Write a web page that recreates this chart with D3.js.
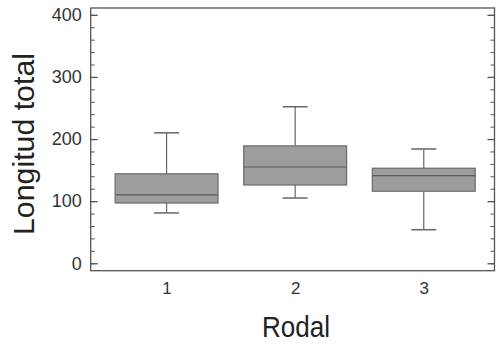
<!DOCTYPE html>
<html>
<head>
<meta charset="utf-8">
<script src="https://cdn.jsdelivr.net/npm/d3@7/dist/d3.min.js"></script>
<style>
 body { margin: 0; background: #fff; }
 svg { display: block; font-family: "Liberation Sans", Arial, sans-serif; }
</style>
</head>
<body>
<svg id="chart" width="496" height="344"></svg>
<script>
 // box stats per rodal
 var rodales = [1, 2, 3];
 var whiskLow  = [81, 105, 54];
 var q1        = [97, 126, 116];
 var medians   = [110, 155, 141];
 var q3        = [144, 189, 153];
 var whiskHigh = [210, 252, 184];
 var yTicks = [0, 100, 200, 300, 400];

 var svg = d3.select("#chart");
 // note: "top" is reserved on window, so plotTop etc.
 var plotLeft = 90.7, plotRight = 494.5, plotTop = 8, plotBottom = 270.7;

 var x = d3.scaleLinear().domain([0.41, 3.55]).range([plotLeft, plotRight]);
 var y = d3.scaleLinear().domain([-12, 411]).range([plotBottom, plotTop]);
 var halfW = 0.4;

 var axisColor = "#555";

 // frame
 svg.append("rect")
    .attr("x", plotLeft).attr("y", plotTop)
    .attr("width", plotRight - plotLeft).attr("height", plotBottom - plotTop)
    .attr("fill", "none").attr("stroke", axisColor).attr("stroke-width", 1.3);

 // minor ticks left / right
 var minor = d3.range(0, 401, 20);
 svg.append("g").attr("transform", "translate(" + plotLeft + ",0)")
    .call(d3.axisLeft(y).tickValues(minor).tickSize(-4).tickFormat(""))
    .call(function(g){ g.select(".domain").remove(); g.selectAll("line").attr("stroke", axisColor); });
 svg.append("g").attr("transform", "translate(" + plotRight + ",0)")
    .call(d3.axisRight(y).tickValues(minor).tickSize(-4).tickFormat(""))
    .call(function(g){ g.select(".domain").remove(); g.selectAll("line").attr("stroke", axisColor); });

 // major ticks + labels
 var ya = svg.append("g").attr("transform", "translate(" + plotLeft + ",0)")
    .call(d3.axisLeft(y).tickValues(yTicks).tickSize(-7).tickPadding(9));
 ya.select(".domain").remove();
 ya.selectAll("line").attr("stroke", axisColor).attr("stroke-width", 1.3);
 ya.selectAll("text").attr("font-size", 18).attr("fill", "#333")
   .attr("font-family", "Liberation Sans, Arial, sans-serif");
 svg.append("g").attr("transform", "translate(" + plotRight + ",0)")
    .call(d3.axisRight(y).tickValues(yTicks).tickSize(-7).tickFormat(""))
    .call(function(g){ g.select(".domain").remove(); g.selectAll("line").attr("stroke", axisColor).attr("stroke-width", 1.3); });

 // x labels
 var xa = svg.append("g").attr("transform", "translate(0," + plotBottom + ")")
    .call(d3.axisBottom(x).tickValues(rodales).tickSize(0).tickPadding(11).tickFormat(d3.format("d")));
 xa.select(".domain").remove();
 xa.selectAll("text").attr("font-size", 17).attr("fill", "#333")
   .attr("font-family", "Liberation Sans, Arial, sans-serif");

 // boxes
 var boxes = svg.append("g");
 rodales.forEach(function(r, i){
     var cx = x(r);
     var g = boxes.append("g");
     var cap = 12.5;
     g.append("line").attr("x1", cx).attr("x2", cx)
      .attr("y1", y(whiskHigh[i])).attr("y2", y(q3[i]))
      .attr("stroke", "#666").attr("stroke-width", 1.2);
     g.append("line").attr("x1", cx).attr("x2", cx)
      .attr("y1", y(q1[i])).attr("y2", y(whiskLow[i]))
      .attr("stroke", "#666").attr("stroke-width", 1.2);
     g.append("line").attr("x1", cx - cap).attr("x2", cx + cap)
      .attr("y1", y(whiskHigh[i])).attr("y2", y(whiskHigh[i]))
      .attr("stroke", "#666").attr("stroke-width", 1.5);
     g.append("line").attr("x1", cx - cap).attr("x2", cx + cap)
      .attr("y1", y(whiskLow[i])).attr("y2", y(whiskLow[i]))
      .attr("stroke", "#666").attr("stroke-width", 1.5);
     g.append("rect")
      .attr("x", x(r - halfW)).attr("width", x(r + halfW) - x(r - halfW))
      .attr("y", y(q3[i])).attr("height", y(q1[i]) - y(q3[i]))
      .attr("fill", "#9d9d9d").attr("stroke", "#6b6b6b").attr("stroke-width", 1.2);
     g.append("line").attr("x1", x(r - halfW)).attr("x2", x(r + halfW))
      .attr("y1", y(medians[i])).attr("y2", y(medians[i]))
      .attr("stroke", "#5a5a5a").attr("stroke-width", 1.2);
 });

 // titles
 svg.append("text")
    .attr("x", 296).attr("y", 337)
    .attr("text-anchor", "middle")
    .attr("font-size", 29).attr("fill", "#222")
    .attr("textLength", 68).attr("lengthAdjust", "spacingAndGlyphs")
    .text("Rodal");
 svg.append("text")
    .attr("transform", "translate(34,144) rotate(-90)")
    .attr("text-anchor", "middle")
    .attr("font-size", 29).attr("fill", "#222")
    .attr("textLength", 182).attr("lengthAdjust", "spacingAndGlyphs")
    .text("Longitud total");
</script>
</body>
</html>
